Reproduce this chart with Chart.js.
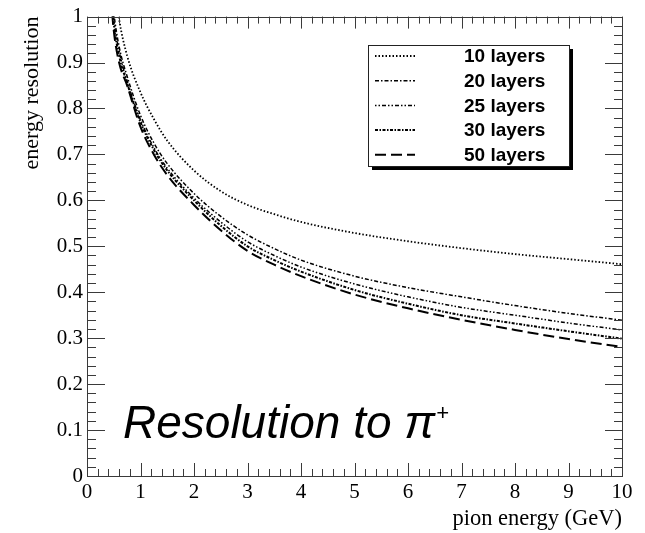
<!DOCTYPE html>
<html>
<head>
<meta charset="utf-8">
<script src="https://cdn.jsdelivr.net/npm/chart.js@4.4.1/dist/chart.umd.min.js"></script>
<style>
  html, body { margin: 0; padding: 0; background: #fff; }
  #wrap { width: 645px; height: 533px; }
</style>
</head>
<body>
<div id="wrap"><canvas id="resChart" width="645" height="533"></canvas></div>
<script>
// pion energy (GeV)
const energies = [0.4, 0.5, 0.6, 0.75, 1, 1.25, 1.5, 2, 2.5, 3, 3.5, 4, 5, 6, 7, 8, 9, 10];

// energy resolution per calorimeter depth
const res10 = [1.25, 1.09, 0.995, 0.915, 0.835, 0.777, 0.73, 0.665, 0.62, 0.59, 0.57, 0.553, 0.529, 0.511, 0.496, 0.483, 0.472, 0.461];
const res20 = [1.14, 1.01, 0.935, 0.87, 0.785, 0.725, 0.68, 0.615, 0.565, 0.525, 0.495, 0.47, 0.435, 0.41, 0.39, 0.371, 0.354, 0.339];
const res25 = [1.13, 0.995, 0.925, 0.86, 0.775, 0.715, 0.67, 0.605, 0.553, 0.51, 0.48, 0.455, 0.418, 0.39, 0.367, 0.35, 0.333, 0.318];
const res30 = [1.12, 0.985, 0.915, 0.855, 0.77, 0.71, 0.665, 0.60, 0.545, 0.50, 0.47, 0.445, 0.405, 0.375, 0.35, 0.332, 0.315, 0.299];
const res50 = [1.11, 0.97, 0.90, 0.85, 0.76, 0.70, 0.655, 0.59, 0.535, 0.49, 0.46, 0.435, 0.395, 0.365, 0.34, 0.318, 0.298, 0.281];

const seriesLabels = ['10 layers', '20 layers', '25 layers', '30 layers', '50 layers'];
const seriesValues = [res10, res20, res25, res30, res50];
const seriesDash = [[1.5, 2], [4, 2, 1.5, 2], [1.5, 2, 1.5, 2, 4, 2], [3, 1.5, 1.5, 1.5], [11, 5]];
const seriesWidth = [1.8, 1.5, 1.5, 2, 2];

const serif = "'Liberation Serif', 'DejaVu Serif', serif";
const sans = "'Liberation Sans', Arial, sans-serif";

function toPoints(values) {
    return energies.map((e, i) => ({ x: e, y: values[i] }));
}

// inward major/minor ticks on all four sides plus the frame
const frameTicks = {
    id: 'frameTicks',
    afterDatasetsDraw(chart) {
        const { ctx, chartArea: a, scales: { x, y } } = chart;
        ctx.save();
        ctx.strokeStyle = '#3a3a3a';
        ctx.lineWidth = 1;
        ctx.beginPath();
        for (let i = 0; i <= 50; i++) {
            const px = Math.round(x.getPixelForValue(i * 0.2)) + 0.5;
            const major = i % 5 === 0;
            ctx.moveTo(px, a.bottom);
            ctx.lineTo(px, a.bottom - (major ? 13 : 7));
            ctx.moveTo(px, a.top);
            ctx.lineTo(px, a.top + (major ? 12 : 7));
        }
        for (let i = 0; i <= 50; i++) {
            const py = Math.round(y.getPixelForValue(i * 0.02)) + 0.5;
            const major = i % 5 === 0;
            ctx.moveTo(a.left, py);
            ctx.lineTo(a.left + (major ? 18 : 9), py);
            ctx.moveTo(a.right, py);
            ctx.lineTo(a.right - (major ? 17 : 8), py);
        }
        ctx.stroke();
        ctx.strokeRect(Math.round(a.left) + 0.5, Math.round(a.top) + 0.5,
            Math.round(a.right - a.left), Math.round(a.bottom - a.top));
        ctx.restore();
    },
    afterDraw(chart) {
        const ctx = chart.ctx;
        ctx.save();

        // legend box with drop shadow
        const bx = 368, by = 45, bw = 201, bh = 121;
        ctx.fillStyle = '#000';
        ctx.fillRect(bx + 4, by + bh, bw, 4);
        ctx.fillRect(bx + bw, by + 4, 4, bh);
        ctx.fillStyle = '#fff';
        ctx.fillRect(bx, by, bw, bh);
        ctx.strokeStyle = '#222';
        ctx.lineWidth = 1;
        ctx.strokeRect(bx + 0.5, by + 0.5, bw, bh);

        chart.data.datasets.forEach((ds, i) => {
            const ry = by + 11 + i * 24.7;
            ctx.beginPath();
            ctx.setLineDash(ds.borderDash);
            ctx.lineWidth = ds.borderWidth;
            ctx.strokeStyle = ds.borderColor;
            ctx.moveTo(375, ry);
            ctx.lineTo(415, ry);
            ctx.stroke();
            ctx.setLineDash([]);
            ctx.fillStyle = '#000';
            ctx.font = 'bold 19px ' + sans;
            ctx.textAlign = 'left';
            ctx.textBaseline = 'middle';
            ctx.fillText(ds.label, 464, ry + 1);
        });

        // big caption inside the plot
        ctx.fillStyle = '#000';
        ctx.textBaseline = 'alphabetic';
        ctx.font = 'italic 46px ' + sans;
        const cap = 'Resolution to \u03c0';
        ctx.fillText(cap, 123, 438);
        const w = ctx.measureText(cap).width;
        ctx.font = 'italic 22px ' + sans;
        ctx.fillText('+', 123 + w + 1, 420);
        ctx.restore();
    }
};

const ctx = document.getElementById('resChart').getContext('2d');
new Chart(ctx, {
    type: 'line',
    data: {
        datasets: seriesLabels.map((label, i) => ({
            label: label,
            data: toPoints(seriesValues[i]),
            borderColor: '#000',
            borderWidth: seriesWidth[i],
            borderDash: seriesDash[i],
            pointRadius: 0,
            fill: false,
            cubicInterpolationMode: 'monotone'
        }))
    },
    options: {
        responsive: false,
        animation: false,
        devicePixelRatio: 1,
        layout: { padding: { top: 14, right: 23, left: 0, bottom: 0 } },
        plugins: {
            legend: { display: false },
            tooltip: { enabled: false }
        },
        scales: {
            x: {
                type: 'linear',
                min: 0,
                max: 10,
                ticks: {
                    stepSize: 1,
                    color: '#000',
                    padding: 4,
                    maxRotation: 0,
                    font: { family: serif, size: 21 }
                },
                grid: { display: false, drawTicks: false },
                border: { display: false },
                title: {
                    display: true,
                    text: 'pion energy (GeV)',
                    align: 'end',
                    color: '#000',
                    padding: { top: 2, bottom: 0 },
                    font: { family: serif, size: 22.5 }
                },
                afterFit(scale) { scale.height = 57; }
            },
            y: {
                type: 'linear',
                min: 0,
                max: 1,
                ticks: {
                    stepSize: 0.1,
                    color: '#000',
                    padding: 4,
                    font: { family: serif, size: 21 },
                    callback: v => (v === 0 || v === 1) ? String(v) : v.toFixed(1)
                },
                grid: { display: false, drawTicks: false },
                border: { display: false },
                title: {
                    display: true,
                    text: 'energy resolution',
                    align: 'end',
                    color: '#000',
                    padding: { top: 19, bottom: 0 },
                    font: { family: serif, size: 22 }
                },
                afterFit(scale) { scale.width = 87; }
            }
        }
    },
    plugins: [frameTicks]
});
</script>
</body>
</html>
